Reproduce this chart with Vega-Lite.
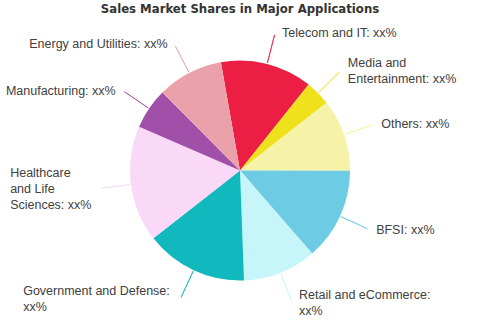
{
  "$schema": "https://vega.github.io/schema/vega-lite/v6.json",
  "width": 480,
  "height": 320,
  "autosize": {"type": "fit", "contains": "padding"},
  "padding": {"top": 3, "left": 0, "right": 0, "bottom": 0},
  "background": "white",
  "title": {
    "text": "Sales Market Shares in Major Applications",
    "font": "Liberation Sans Narrow, DejaVu Sans Condensed, sans-serif",
    "fontSize": 13,
    "fontWeight": "bold",
    "color": "#333333",
    "anchor": "middle",
    "frame": "bounds",
    "offset": 5
  },
  "config": {"view": {"stroke": null}},
  "data": {
    "values": [
      {"ord": 1, "category": "Telecom and IT", "share": 13.5, "label": "Telecom and IT: xx%"},
      {"ord": 2, "category": "Media and Entertainment", "share": 3.7, "label": "Media and\nEntertainment: xx%"},
      {"ord": 3, "category": "Others", "share": 10.6, "label": "Others: xx%"},
      {"ord": 4, "category": "BFSI", "share": 13.6, "label": "BFSI: xx%"},
      {"ord": 5, "category": "Retail and eCommerce", "share": 10.8, "label": "Retail and eCommerce:\nxx%"},
      {"ord": 6, "category": "Government and Defense", "share": 15.0, "label": "Government and Defense:\nxx%"},
      {"ord": 7, "category": "Healthcare and Life Sciences", "share": 17.1, "label": "Healthcare\nand Life\nSciences: xx%"},
      {"ord": 8, "category": "Manufacturing", "share": 6.0, "label": "Manufacturing: xx%"},
      {"ord": 9, "category": "Energy and Utilities", "share": 9.7, "label": "Energy and Utilities: xx%"}
    ]
  },
  "transform": [
    {"stack": "share", "groupby": [], "sort": [{"field": "ord", "order": "ascending"}], "as": ["s0", "s1"]},
    {"fold": ["s0", "s1"], "as": ["edge", "angle"]},
    {"aggregate": [{"op": "mean", "field": "angle", "as": "mid"}], "groupby": ["category", "share", "ord", "label"]}
  ],
  "encoding": {
    "color": {
      "field": "category",
      "type": "nominal",
      "legend": null,
      "scale": {
        "domain": ["Telecom and IT", "Media and Entertainment", "Others", "BFSI", "Retail and eCommerce", "Government and Defense", "Healthcare and Life Sciences", "Manufacturing", "Energy and Utilities"],
        "range": ["#ED1E43", "#EFE21C", "#F6F2A8", "#6DCBE3", "#C6F6F9", "#11B8BD", "#FAD9F8", "#A050A9", "#EBA1A9"]
      }
    }
  },
  "layer": [
    {
      "mark": {"type": "arc", "radius": 110},
      "encoding": {
        "theta": {"field": "share", "type": "quantitative", "stack": true, "scale": {"domain": [0, 100], "range": [-0.1745, 6.1087]}},
        "order": {"field": "ord", "type": "quantitative"}
      }
    },
    {
      "mark": {"type": "arc", "radius": 111, "radius2": 140, "filled": false, "strokeWidth": 1, "strokeOpacity": 0.75},
      "encoding": {
        "theta": {"field": "mid", "type": "quantitative"},
        "theta2": {"field": "mid"}
      }
    },
    {
      "transform": [{"filter": "datum.ord == 1 || datum.ord == 3 || datum.ord == 4"}],
      "mark": {"type": "text", "radius": 142, "align": "left", "baseline": "middle", "dx": 7, "dy": 0, "lineBreak": "\n", "font": "Liberation Sans", "fontSize": 12.5, "lineHeight": 16, "color": "#404040"},
      "encoding": {
        "theta": {"field": "mid", "type": "quantitative", "stack": null},
        "text": {"field": "label"},
        "color": {"value": "#404040"}
      }
    },
    {
      "transform": [{"filter": "datum.ord == 2 || datum.ord == 5"}],
      "mark": {"type": "text", "radius": 142, "align": "left", "baseline": "middle", "dx": 7, "dy": -8, "lineBreak": "\n", "font": "Liberation Sans", "fontSize": 12.5, "lineHeight": 16, "color": "#404040"},
      "encoding": {
        "theta": {"field": "mid", "type": "quantitative", "stack": null},
        "text": {"field": "label"},
        "color": {"value": "#404040"}
      }
    },
    {
      "transform": [{"filter": "datum.ord == 8 || datum.ord == 9"}],
      "mark": {"type": "text", "radius": 142, "align": "right", "baseline": "middle", "dx": -7, "dy": 0, "lineBreak": "\n", "font": "Liberation Sans", "fontSize": 12.5, "lineHeight": 16, "color": "#404040"},
      "encoding": {
        "theta": {"field": "mid", "type": "quantitative", "stack": null},
        "text": {"field": "label"},
        "color": {"value": "#404040"}
      }
    },
    {
      "transform": [{"filter": "datum.ord == 6"}],
      "mark": {"type": "text", "radius": 142, "align": "left", "baseline": "middle", "dx": -157, "dy": -8, "lineBreak": "\n", "font": "Liberation Sans", "fontSize": 12.5, "lineHeight": 16, "color": "#404040"},
      "encoding": {
        "theta": {"field": "mid", "type": "quantitative", "stack": null},
        "text": {"field": "label"},
        "color": {"value": "#404040"}
      }
    },
    {
      "transform": [{"filter": "datum.ord == 7"}],
      "mark": {"type": "text", "radius": 142, "align": "left", "baseline": "middle", "dx": -89, "dy": -16, "lineBreak": "\n", "font": "Liberation Sans", "fontSize": 12.5, "lineHeight": 16, "color": "#404040"},
      "encoding": {
        "theta": {"field": "mid", "type": "quantitative", "stack": null},
        "text": {"field": "label"},
        "color": {"value": "#404040"}
      }
    }
  ]
}
